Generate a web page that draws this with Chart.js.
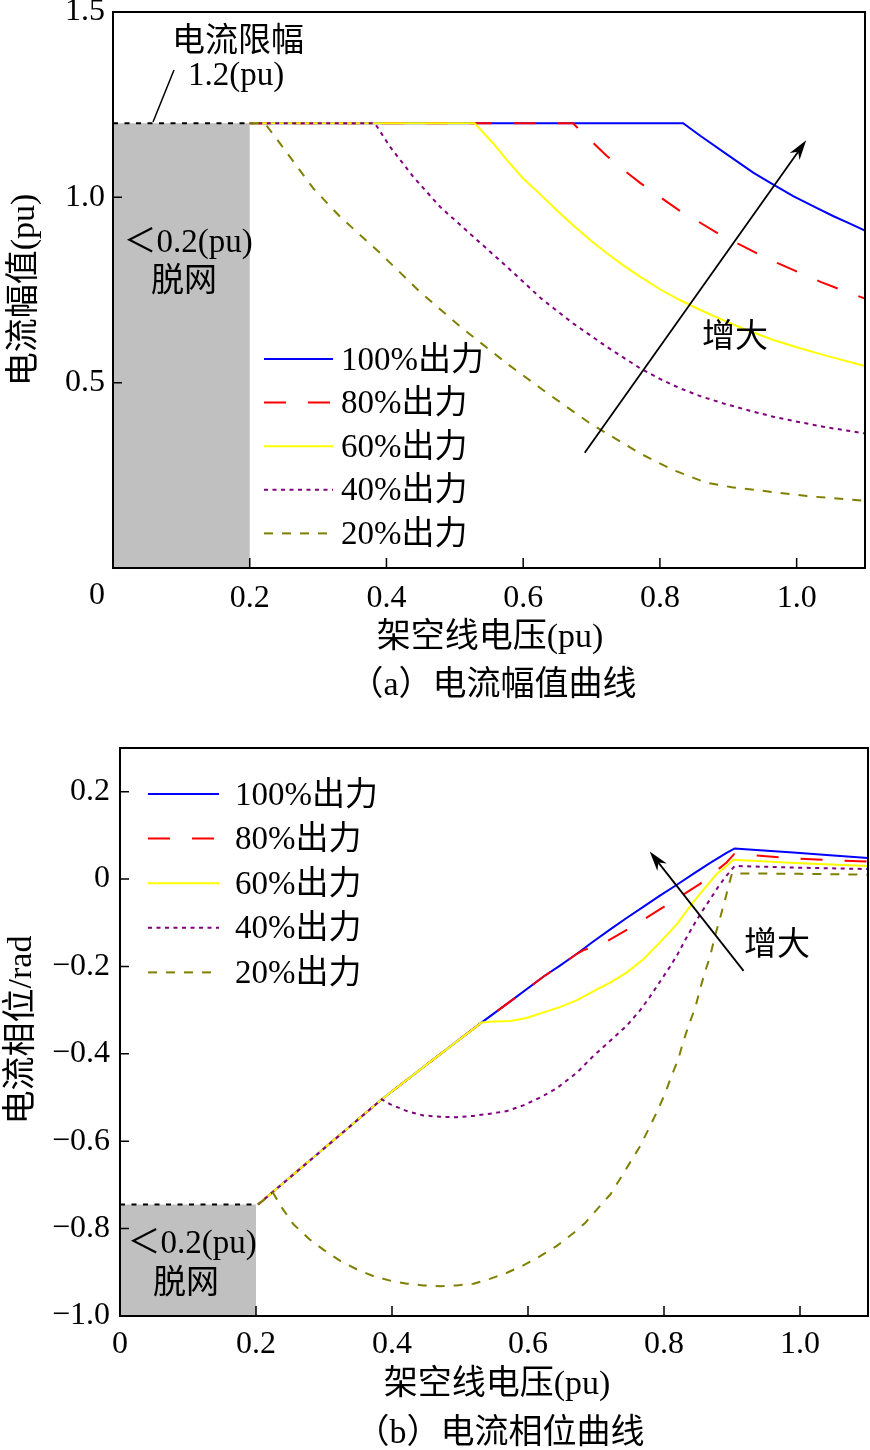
<!DOCTYPE html>
<html>
<head>
<meta charset="utf-8">
<script src="https://cdn.jsdelivr.net/npm/chart.js@4.4.0/dist/chart.umd.min.js"></script>
<style>
  html, body { margin: 0; padding: 0; background: #fff; }
  .wrap { position: absolute; left: 0; width: 870px; }
  #wrapA { top: 0; height: 715px; }
  #wrapB { top: 715px; height: 735px; }
</style>
</head>
<body>
<div id="wrapA" class="wrap"><canvas id="chartA" width="870" height="715"></canvas></div>
<div id="wrapB" class="wrap"><canvas id="chartB" width="870" height="735"></canvas></div>
<script>
// ---- data ----
const seriesNames = ['100%出力', '80%出力', '60%出力', '40%出力', '20%出力'];
const xTicks = [0, 0.2, 0.4, 0.6, 0.8, 1.0];
const ampTicks = [0.5, 1.0, 1.5];
const phaseTicks = [0.2, 0, -0.2, -0.4, -0.6, -0.8, -1.0];

// (a) current amplitude vs line voltage  [voltage, amplitude]
const amp100 = [[0.2,1.2],[0.834,1.2],[0.859,1.166],[0.898,1.116],[0.937,1.066],[0.966,1.034],[0.995,1.003],
                [1.024,0.976],[1.054,0.949],[1.078,0.929],[1.1,0.910]];
const amp80 = [[0.2,1.2],[0.673,1.2],[0.683,1.181],[0.693,1.164],[0.722,1.112],[0.744,1.078],[0.771,1.039],
               [0.798,1.004],[0.827,0.966],[0.854,0.937],[0.883,0.905],[0.913,0.876],[0.944,0.847],
               [0.974,0.821],[1.006,0.795],[1.035,0.772],[1.067,0.749],[1.1,0.727]];
const amp60 = [[0.2,1.2],[0.529,1.2],[0.556,1.146],[0.576,1.101],[0.600,1.051],[0.625,1.008],[0.649,0.965],
               [0.673,0.925],[0.698,0.885],[0.722,0.850],[0.746,0.817],[0.771,0.786],[0.800,0.752],
               [0.829,0.723],[0.864,0.692],[0.893,0.668],[0.927,0.642],[0.966,0.615],[1.005,0.593],
               [1.039,0.575],[1.1,0.545]];
const amp40 = [[0.2,1.2],[0.383,1.2],[0.405,1.137],[0.439,1.056],[0.478,0.975],[0.527,0.894],[0.576,0.813],
               [0.627,0.726],[0.673,0.660],[0.722,0.597],[0.771,0.539],[0.800,0.510],[0.829,0.485],
               [0.860,0.463],[0.893,0.444],[0.930,0.425],[0.966,0.408],[1.003,0.394],[1.039,0.381],[1.1,0.363]];
const amp20 = [[0.2,1.2],[0.222,1.2],[0.244,1.146],[0.293,1.024],[0.332,0.948],[0.391,0.849],[0.449,0.745],
               [0.508,0.651],[0.576,0.552],[0.632,0.476],[0.698,0.390],[0.771,0.309],[0.820,0.264],
               [0.868,0.230],[0.905,0.218],[0.942,0.210],[1.015,0.194],[1.1,0.181]];

// (b) current phase vs line voltage  [voltage, rad]
const phase100 = [[0.203,-0.745],[0.385,-0.504],[0.458,-0.416],[0.532,-0.328],[0.574,-0.280],[0.623,-0.223],
                  [0.647,-0.198],[0.672,-0.171],[0.696,-0.143],[0.721,-0.115],[0.745,-0.089],[0.770,-0.063],
                  [0.794,-0.038],[0.819,-0.013],[0.843,0.012],[0.868,0.037],[0.892,0.060],[0.904,0.070],
                  [0.941,0.066],[0.990,0.061],[1.039,0.055],[1.1,0.048]];
const phase80 = [[0.203,-0.745],[0.385,-0.504],[0.458,-0.416],[0.532,-0.328],[0.574,-0.280],[0.623,-0.223],
                 [0.647,-0.198],[0.672,-0.171],[0.681,-0.163],[0.706,-0.151],[0.730,-0.130],[0.755,-0.107],
                 [0.785,-0.078],[0.814,-0.050],[0.853,-0.011],[0.877,0.019],[0.892,0.038],[0.903,0.057],
                 [0.922,0.056],[0.990,0.047],[1.1,0.040]];
const phase60 = [[0.203,-0.745],[0.385,-0.504],[0.458,-0.416],[0.532,-0.328],[0.549,-0.326],[0.574,-0.325],
                 [0.598,-0.318],[0.623,-0.305],[0.647,-0.293],[0.672,-0.277],[0.696,-0.257],[0.721,-0.237],
                 [0.745,-0.214],[0.770,-0.183],[0.794,-0.145],[0.819,-0.103],[0.843,-0.053],[0.863,-0.015],
                 [0.877,0.011],[0.892,0.030],[0.902,0.044],[1.0,0.036],[1.1,0.030]];
const phase40 = [[0.203,-0.745],[0.385,-0.504],[0.397,-0.515],[0.422,-0.531],[0.446,-0.541],[0.471,-0.544],
                 [0.495,-0.545],[0.520,-0.542],[0.544,-0.537],[0.569,-0.531],[0.593,-0.518],[0.618,-0.500],
                 [0.642,-0.479],[0.672,-0.443],[0.696,-0.405],[0.721,-0.370],[0.745,-0.336],[0.765,-0.300],
                 [0.779,-0.270],[0.794,-0.235],[0.809,-0.200],[0.820,-0.172],[0.831,-0.140],[0.843,-0.107],
                 [0.855,-0.076],[0.868,-0.046],[0.880,-0.017],[0.892,0.008],[0.904,0.030],[1.0,0.026],
                 [1.1,0.023]];
const phase20 = [[0.203,-0.745],[0.225,-0.718],[0.238,-0.752],[0.255,-0.790],[0.279,-0.825],[0.299,-0.848],
                 [0.324,-0.874],[0.348,-0.893],[0.373,-0.909],[0.397,-0.919],[0.422,-0.926],[0.446,-0.930],
                 [0.471,-0.932],[0.495,-0.930],[0.520,-0.926],[0.544,-0.915],[0.569,-0.901],[0.593,-0.884],
                 [0.618,-0.863],[0.642,-0.840],[0.667,-0.810],[0.684,-0.787],[0.706,-0.748],[0.721,-0.722],
                 [0.735,-0.687],[0.750,-0.649],[0.765,-0.611],[0.777,-0.573],[0.789,-0.535],[0.801,-0.493],
                 [0.811,-0.451],[0.821,-0.412],[0.828,-0.374],[0.836,-0.336],[0.846,-0.294],[0.853,-0.252],
                 [0.860,-0.214],[0.868,-0.176],[0.875,-0.130],[0.882,-0.092],[0.890,-0.046],[0.895,-0.015],
                 [0.900,0.013],[1.0,0.012],[1.1,0.010]];

// shaded "disconnected" zone and limit line
const offGridV = 0.2;
const ampLimit = 1.2;
const phaseOffTop = -0.745;

// ---- styling ----
const FONT = '"Liberation Serif", "Noto Sans CJK SC", serif';
const colors = ['#0000ff', '#ff0000', '#ffff00', '#800080', '#808000'];
const dashes = [[], [22, 22], [], [4, 4.5], [9, 9]];

function makeDatasets(series) {
  return series.map((pts, i) => ({
    label: seriesNames[i],
    data: pts.map(p => ({ x: p[0], y: p[1] })),
    borderColor: colors[i],
    borderWidth: 2,
    borderDash: dashes[i],
    pointRadius: 0,
    tension: 0,
    fill: false,
    order: 5 - i
  }));
}

function fmt(v) {
  if (Math.abs(v) < 1e-9) return '0';
  return (v < 0 ? '\u2212' : '') + Math.abs(v).toFixed(1);
}

function text(ctx, s, x, y, size, align, rot) {
  ctx.save();
  ctx.font = size + 'px ' + FONT;
  ctx.fillStyle = '#000';
  ctx.textAlign = align || 'center';
  ctx.textBaseline = 'middle';
  ctx.translate(x, y);
  if (rot) ctx.rotate(rot);
  ctx.fillText(s, 0, 0);
  ctx.restore();
}

function arrow(ctx, x0, y0, x1, y1) {
  const a = Math.atan2(y1 - y0, x1 - x0);
  const c = Math.cos(a), s = Math.sin(a);
  ctx.save();
  ctx.strokeStyle = '#000';
  ctx.fillStyle = '#000';
  ctx.lineWidth = 1.8;
  ctx.setLineDash([]);
  ctx.beginPath();
  ctx.moveTo(x0, y0);
  ctx.lineTo(x1 - 10 * c, y1 - 10 * s);
  ctx.stroke();
  ctx.beginPath();
  ctx.moveTo(x1, y1);
  ctx.lineTo(x1 - 20 * c + 6 * s, y1 - 20 * s - 6 * c);
  ctx.lineTo(x1 - 14 * c, y1 - 14 * s);
  ctx.lineTo(x1 - 20 * c - 6 * s, y1 - 20 * s + 6 * c);
  ctx.closePath();
  ctx.fill();
  ctx.restore();
}

// gray off-grid box with dotted top edge
function shadePlugin(yLow, yTop) {
  return {
    id: 'shade',
    beforeDatasetsDraw(chart) {
      const { ctx, scales: { x, y } } = chart;
      const l = x.getPixelForValue(0), r = x.getPixelForValue(offGridV);
      const t = y.getPixelForValue(yTop), b = y.getPixelForValue(yLow);
      ctx.save();
      ctx.fillStyle = '#c0c0c0';
      ctx.fillRect(l, t, r - l, b - t);
      ctx.strokeStyle = '#000';
      ctx.lineWidth = 2;
      ctx.setLineDash([5, 6.5]);
      ctx.beginPath();
      ctx.moveTo(l, t);
      ctx.lineTo(r, t);
      ctx.stroke();
      ctx.restore();
    }
  };
}

// frame, inward ticks, legend
function framePlugin(leg) {
  return {
    id: 'frame',
    afterDraw(chart) {
      const { ctx, chartArea: ca, scales: { x, y } } = chart;
      ctx.save();
      ctx.strokeStyle = '#000';
      ctx.setLineDash([]);
      ctx.lineWidth = 1.5;
      ctx.beginPath();
      x.ticks.forEach(t => {
        const px = x.getPixelForValue(t.value);
        if (px > ca.left + 2 && px < ca.right - 2) { ctx.moveTo(px, ca.bottom); ctx.lineTo(px, ca.bottom - 10); }
      });
      y.ticks.forEach(t => {
        const py = y.getPixelForValue(t.value);
        if (py > ca.top + 2 && py < ca.bottom - 2) { ctx.moveTo(ca.left, py); ctx.lineTo(ca.left + 9, py); }
      });
      ctx.stroke();
      ctx.lineWidth = 2;
      ctx.strokeRect(ca.left, ca.top, ca.right - ca.left, ca.bottom - ca.top);
      // legend
      chart.data.datasets.forEach((ds, i) => {
        const ry = leg.y + i * leg.step;
        ctx.strokeStyle = ds.borderColor;
        ctx.lineWidth = ds.borderWidth;
        ctx.setLineDash(ds.borderDash);
        ctx.beginPath();
        ctx.moveTo(leg.x0, ry);
        ctx.lineTo(leg.x1, ry);
        ctx.stroke();
        text(ctx, ds.label, leg.tx, ry + 2, 33, 'left');
      });
      ctx.restore();
    }
  };
}

function scaleOpts(min, max, ticks, size, pad, isY, hideZero) {
  return {
    type: 'linear',
    min: min, max: max,
    grid: { display: false, drawTicks: false },
    border: { display: false },
    afterBuildTicks: s => { s.ticks = ticks.map(v => ({ value: v })); },
    afterFit: s => {
      if (isY) s.width = size; else s.height = size;
      s.paddingTop = 0; s.paddingBottom = 0; s.paddingLeft = 0; s.paddingRight = 0;
    },
    ticks: {
      autoSkip: false, maxRotation: 0, padding: pad, color: '#000',
      font: { family: FONT, size: 32 },
      callback: v => (hideZero && Math.abs(v) < 1e-9) ? '' : fmt(v)
    }
  };
}

Chart.defaults.animation = false;

// ---- chart (a) ----
new Chart(document.getElementById('chartA'), {
  type: 'line',
  data: { datasets: makeDatasets([amp100, amp80, amp60, amp40, amp20]) },
  options: {
    responsive: false,
    devicePixelRatio: 1,
    layout: { autoPadding: false, padding: { left: 0, right: 5, top: 12, bottom: 0 } },
    plugins: { legend: { display: false }, tooltip: { enabled: false } },
    scales: {
      x: scaleOpts(0, 1.1, xTicks, 147, 11, false, true),
      y: scaleOpts(0, 1.5, ampTicks, 113, 8, true, false)
    }
  },
  plugins: [
    shadePlugin(0, ampLimit),
    framePlugin({ x0: 264, x1: 333, tx: 341, y: 359, step: 43.6 }),
    {
      id: 'notesA',
      afterDraw(chart) {
        const { ctx, scales: { x, y } } = chart;
        text(ctx, '0', 97, 596, 32);
        text(ctx, '电流幅值(pu)', 25, 290, 34, 'center', -Math.PI / 2);
        text(ctx, '架空线电压(pu)', 490, 638, 34);
        text(ctx, '（a）电流幅值曲线', 493, 686, 34);
        text(ctx, '电流限幅', 238, 42, 33);
        text(ctx, '1.2(pu)', 236, 76, 33);
        text(ctx, '＜0.2(pu)', 188, 243, 33);
        text(ctx, '脱网', 184, 282, 33);
        text(ctx, '增大', 735, 338, 33);
        ctx.save();
        ctx.strokeStyle = '#000';
        ctx.lineWidth = 1.5;
        ctx.beginPath();
        ctx.moveTo(153, 122);
        ctx.lineTo(174, 70);
        ctx.stroke();
        ctx.restore();
        arrow(ctx, x.getPixelForValue(0.690), y.getPixelForValue(0.311),
                   x.getPixelForValue(1.014), y.getPixelForValue(1.154));
      }
    }
  ]
});

// ---- chart (b) ----
new Chart(document.getElementById('chartB'), {
  type: 'line',
  data: { datasets: makeDatasets([phase100, phase80, phase60, phase40, phase20]) },
  options: {
    responsive: false,
    devicePixelRatio: 1,
    layout: { autoPadding: false, padding: { left: 0, right: 2, top: 33, bottom: 0 } },
    plugins: { legend: { display: false }, tooltip: { enabled: false } },
    scales: {
      x: scaleOpts(0, 1.1, xTicks, 134, 9, false, false),
      y: scaleOpts(-1.0, 0.3, phaseTicks, 120, 10, true, false)
    }
  },
  plugins: [
    shadePlugin(-1.0, phaseOffTop),
    framePlugin({ x0: 148, x1: 219, tx: 235, y: 79, step: 44.6 }),
    {
      id: 'notesB',
      afterDraw(chart) {
        const { ctx, scales: { x, y } } = chart;
        text(ctx, '电流相位/rad', 22, 315, 34, 'center', -Math.PI / 2);
        text(ctx, '架空线电压(pu)', 497, 670, 34);
        text(ctx, '（b）电流相位曲线', 500, 719, 34);
        text(ctx, '＜0.2(pu)', 192, 529, 33);
        text(ctx, '脱网', 186, 569, 33);
        text(ctx, '增大', 777, 231, 33);
        arrow(ctx, x.getPixelForValue(0.917), y.getPixelForValue(-0.210),
                   x.getPixelForValue(0.779), y.getPixelForValue(0.063));
      }
    }
  ]
});
</script>
</body>
</html>
